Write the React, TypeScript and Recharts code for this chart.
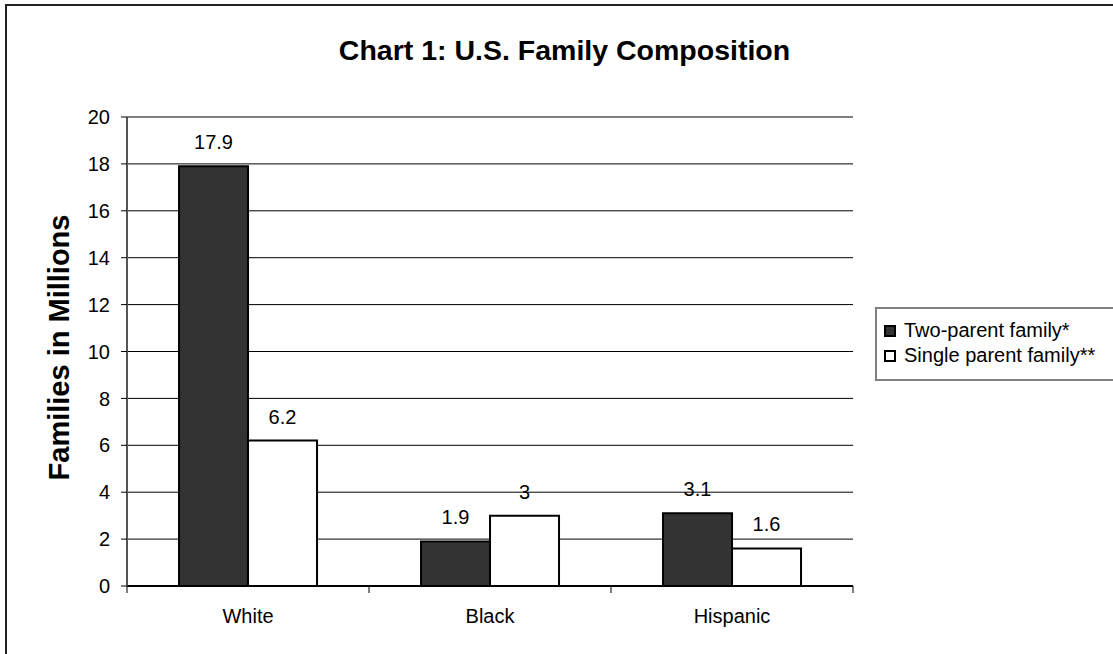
import React from 'react';
import {
  BarChart,
  Bar,
  XAxis,
  YAxis,
  CartesianGrid,
  LabelList,
  Legend,
  ReferenceLine,
  Label,
} from 'recharts';

// Families by race/ethnicity, in millions
const categories = ['White', 'Black', 'Hispanic'];
const twoParent = [17.9, 1.9, 3.1];
const singleParent = [6.2, 3, 1.6];
const yTicks = [0, 2, 4, 6, 8, 10, 12, 14, 16, 18, 20];

const seriesNames = ['Two-parent family*', 'Single parent family**'];
const seriesFills = ['#333333', '#ffffff'];

const data = categories.map((name, i) => ({
  name,
  two: twoParent[i],
  single: singleParent[i],
}));

const FONT = '"Liberation Sans", Arial, Helvetica, sans-serif';

const LegendBox = () => (
  <div
    style={{
      border: '2px solid #808080',
      background: '#fff',
      boxSizing: 'border-box',
      width: 260,
      height: 74,
      padding: '9px 0 0 7px',
      fontFamily: FONT,
      fontSize: 20,
      color: '#000',
    }}
  >
    {seriesNames.map((n, i) => (
      <div key={n} style={{ display: 'flex', alignItems: 'center', height: 25 }}>
        <span
          style={{
            display: 'inline-block',
            width: 12,
            height: 12,
            boxSizing: 'border-box',
            border: '2px solid #000',
            background: seriesFills[i],
            marginRight: 8,
          }}
        />
        <span>{n}</span>
      </div>
    ))}
  </div>
);

const YTitle = () => {
  const x = 69;
  const y = 347.5;
  return (
    <text
      x={x}
      y={y}
      transform={`rotate(-90 ${x} ${y})`}
      textAnchor="middle"
      fontFamily={FONT}
      fontSize={29}
      fontWeight="bold"
      fill="#000"
    >
      Families in Millions
    </text>
  );
};

// Category label plus tick marks on the band boundaries
const CategoryTick = (props: any) => {
  const { x, y, payload, index, visibleTicksCount } = props;
  const half = payload && payload.offset ? payload.offset : 121;
  const last = index === (visibleTicksCount ?? categories.length) - 1;
  return (
    <g>
      <line x1={x - half} x2={x - half} y1={y} y2={y + 7} stroke="#000" strokeWidth={1} />
      {last && (
        <line x1={x + half} x2={x + half} y1={y} y2={y + 7} stroke="#000" strokeWidth={1} />
      )}
      <text x={x} y={y + 37} textAnchor="middle" fontFamily={FONT} fontSize={20} fill="#000">
        {payload.value}
      </text>
    </g>
  );
};

export default function App() {
  return (
    <div
      style={{
        position: 'fixed',
        left: 0,
        top: 0,
        width: 1113,
        height: 654,
        overflow: 'hidden',
        background: '#fff',
        fontFamily: FONT,
      }}
    >
      <div
        style={{
          position: 'absolute',
          left: 5,
          top: 4,
          width: 2000,
          height: 2000,
          borderTop: '2px solid #222',
          borderLeft: '2px solid #222',
        }}
      />
      <div
        style={{
          position: 'absolute',
          left: 0,
          top: 35,
          width: 1129,
          textAlign: 'center',
          fontSize: 28.5,
          lineHeight: '30px',
          fontWeight: 'bold',
          color: '#000',
        }}
      >
        Chart 1: U.S. Family Composition
      </div>
      <div style={{ position: 'absolute', left: 0, top: 0 }}>
        <BarChart
          width={1113}
          height={654}
          data={data}
          margin={{ top: 117, right: 260, bottom: 0, left: 0 }}
          barCategoryGap="21.5%"
          barGap={0}
          style={{ fontFamily: FONT }}
        >
          <CartesianGrid vertical={false} horizontal stroke="#000" strokeWidth={1} />
          <XAxis
            dataKey="name"
            height={68}
            tickSize={0}
            tickMargin={0}
            tickLine={false}
            interval={0}
            axisLine={{ stroke: '#000', strokeWidth: 2 }}
            tick={<CategoryTick />}
          />
          <YAxis
            width={127}
            domain={[0, 20]}
            ticks={yTicks}
            interval={0}
            tickSize={6}
            tickMargin={11}
            axisLine={{ stroke: '#555', strokeWidth: 2 }}
            tickLine={{ stroke: '#000', strokeWidth: 1 }}
            tick={{ fill: '#000', fontSize: 20 }}
          >
            <Label content={YTitle} />
          </YAxis>
          {/* right edge of the plot frame */}
          <YAxis
            yAxisId="frame"
            orientation="right"
            width={0}
            domain={[0, 20]}
            tick={false}
            tickLine={false}
            axisLine={{ stroke: '#808080', strokeWidth: 2 }}
          />
          <ReferenceLine y={20} stroke="#808080" strokeWidth={2} />
          <Bar
            dataKey="two"
            name={seriesNames[0]}
            fill={seriesFills[0]}
            stroke="#000"
            strokeWidth={2}
            isAnimationActive={false}
          >
            <LabelList dataKey="two" position="top" offset={17} fill="#000" fontSize={20} />
          </Bar>
          <Bar
            dataKey="single"
            name={seriesNames[1]}
            fill={seriesFills[1]}
            stroke="#000"
            strokeWidth={2}
            isAnimationActive={false}
          >
            <LabelList dataKey="single" position="top" offset={17} fill="#000" fontSize={20} />
          </Bar>
          <Legend
            layout="horizontal"
            verticalAlign="middle"
            align="center"
            wrapperStyle={{ left: 875, top: 307, width: 260, height: 74 }}
            content={LegendBox}
          />
        </BarChart>
      </div>
    </div>
  );
}
